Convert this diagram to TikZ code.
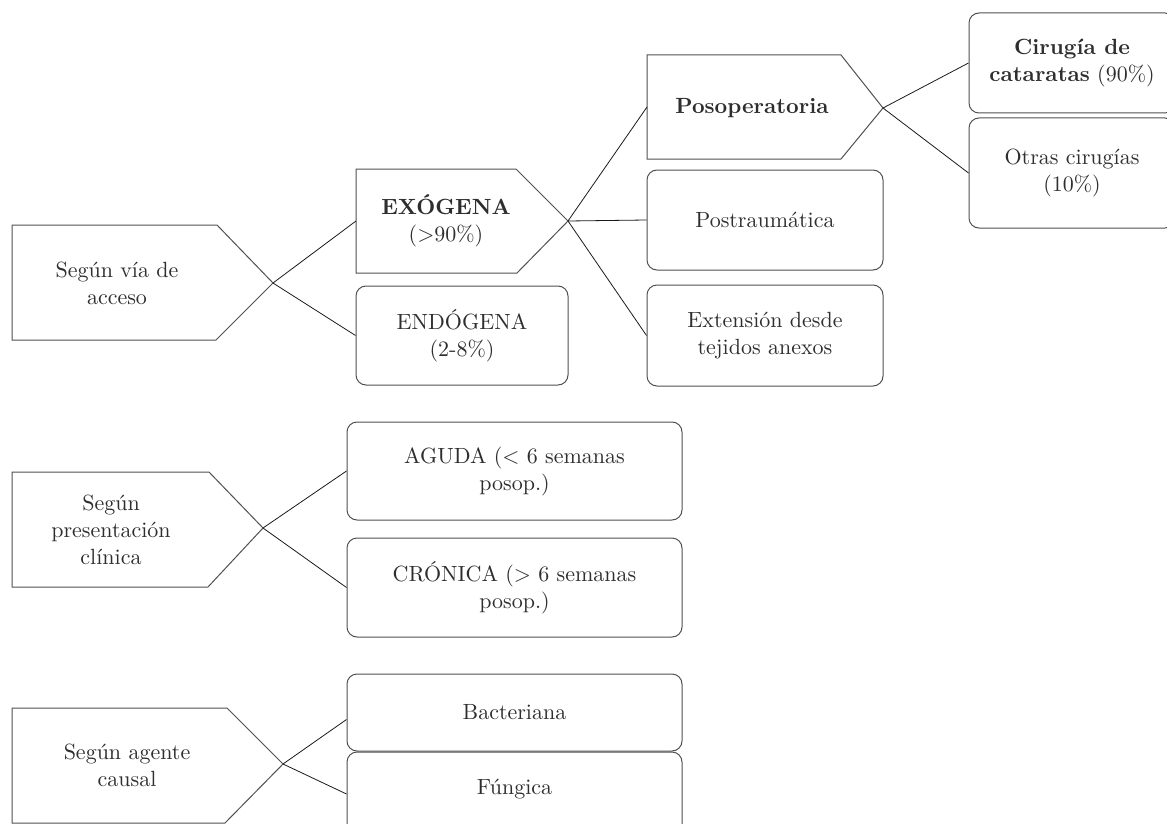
\documentclass[tikz,border=0pt]{standalone}
\usepackage{fontspec}
\setmainfont{lmroman10-regular.otf}[BoldFont=lmroman10-bold.otf]
\definecolor{boxline}{HTML}{505050}
\definecolor{txt}{HTML}{2E2E2E}
\definecolor{conn}{HTML}{1A1A1A}
\tikzset{
  lbl/.style={align=center, text=txt, font=\fontsize{22}{27}\selectfont, inner sep=0pt},
  rbox/.style={draw=boxline, line width=1pt, rounded corners=10pt, align=center, text=txt,
    font=\fontsize{22}{27}\selectfont, inner sep=0pt},
  pent/.style={draw=boxline, line width=1pt, line join=miter},
  conline/.style={draw=conn, line width=0.8pt}
}
\begin{document}
\begin{tikzpicture}[x=1pt, y=-1pt]
\useasboundingbox (0,0) rectangle (1167,824);
\clip (0,0) rectangle (1167,824);

% ---------- Según vía de acceso ----------
\coordinate (a1tip) at (273,283);
\draw[pent] (12,225) -- (217,225) -- (a1tip) -- (216,340) -- (12,340) -- cycle;
\node[lbl] (a1) at (117,283) {Según vía de\\acceso};

\coordinate (exotip) at (568,221);
\coordinate (exowest) at (356,221);
\draw[pent] (356,169) -- (516,169) -- (exotip) -- (517,273) -- (356,273) -- cycle;
\node[lbl] (exo) at (446,221) {\textbf{EXÓGENA}\\(>90\%)};

\node[rbox, minimum width=212pt, minimum height=99pt] (endo) at (462,335.5) {ENDÓGENA\\(2-8\%)};

\coordinate (posotip) at (883,108);
\coordinate (posowest) at (647,107);
\draw[pent] (647,55) -- (841,55) -- (posotip) -- (841,159) -- (647,159) -- cycle;
\node[lbl] (poso) at (752,108) {\textbf{Posoperatoria}};

\node[rbox, minimum width=236pt, minimum height=100pt] (postr) at (765,220) {Postraumática};
\node[rbox, minimum width=236pt, minimum height=101pt] (ext) at (765,335.5) {Extensión desde\\tejidos anexos};

\node[rbox, minimum width=206pt, minimum height=100pt] (cir) at (1072,63) {\textbf{Cirugía de}\\\textbf{cataratas} (90\%)};
\node[rbox, minimum width=206pt, minimum height=110pt] (otras) at (1072,173) {Otras cirugías\\(10\%)};

\draw[conline] (a1tip) -- (exowest);
\draw[conline] (a1tip) -- (endo.west);
\draw[conline] (exotip) -- (posowest);
\draw[conline] (exotip) -- (postr.west);
\draw[conline] (exotip) -- (ext.west);
\draw[conline] (posotip) -- (cir.west);
\draw[conline] (posotip) -- (otras.west);

% ---------- Según presentación clínica ----------
\coordinate (a2tip) at (263,528);
\draw[pent] (12,472) -- (209,472) -- (a2tip) -- (208,587) -- (12,587) -- cycle;
\node[lbl] (a2) at (111,530) {Según\\presentación\\clínica};

\node[rbox, minimum width=335pt, minimum height=98pt] (aguda) at (514.5,471) {AGUDA (< 6 semanas\\posop.)};
\node[rbox, minimum width=335pt, minimum height=99pt] (cron) at (514.5,587.5) {CRÓNICA (> 6 semanas\\posop.)};

\draw[conline] (a2tip) -- (aguda.west);
\draw[conline] (a2tip) -- (cron.west);

% ---------- Según agente causal ----------
\coordinate (a3tip) at (283,764);
\draw[pent] (12,708) -- (227,708) -- (a3tip) -- (225,823) -- (12,823) -- cycle;
\node[lbl] (a3) at (127,765) {Según agente\\causal};

\node[rbox, minimum width=335pt, minimum height=77pt] (bact) at (514.5,712.5) {Bacteriana};
\node[rbox, minimum width=335pt, minimum height=84pt] (fung) at (514.5,794) {};
\node[lbl] (fungtxt) at (514.5,789) {Fúngica};

\draw[conline] (a3tip) -- ([yshift=-7pt]bact.west);
\draw[conline] (a3tip) -- (fung.west);
\end{tikzpicture}
\end{document}
